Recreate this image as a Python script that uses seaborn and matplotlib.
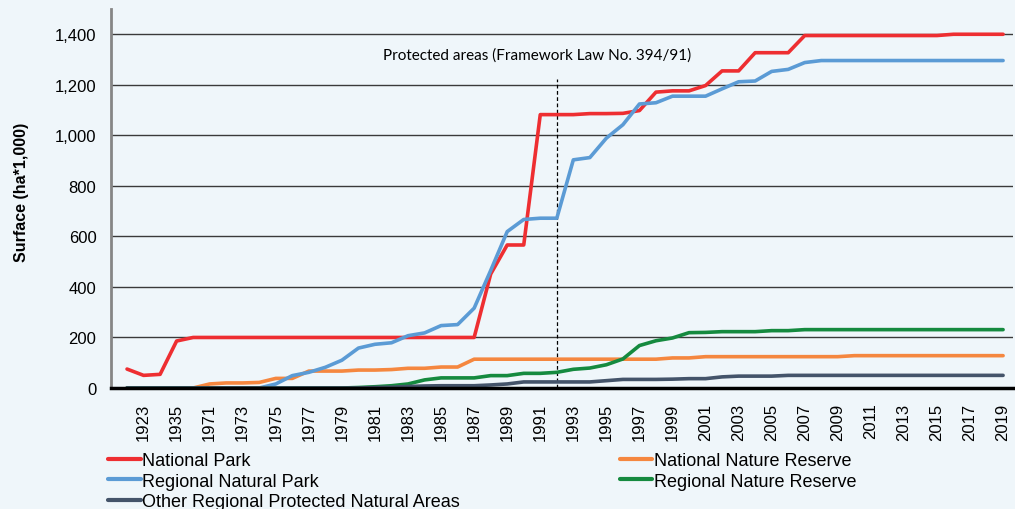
import matplotlib
matplotlib.use("Agg")
import matplotlib.pyplot as plt
import seaborn as sns
import pandas as pd
from matplotlib.ticker import FuncFormatter

# --- data (ha * 1,000) ---
years = ["1922", "1923", "1934", "1935", "1968"] + [str(y) for y in range(1971, 2020)]

national_park = [75, 50, 54, 186, 200,
                 200, 200, 200, 200, 200, 200, 200, 200, 200, 200, 200, 200, 200, 200, 200, 200, 200,
                 451, 566, 566, 1082, 1082, 1082, 1086, 1086, 1087, 1098, 1171, 1176, 1176, 1197,
                 1255, 1255, 1327, 1327, 1327,
                 1395, 1395, 1395, 1395, 1395, 1395, 1395, 1395, 1395,
                 1400, 1400, 1400, 1400]

national_nature_reserve = [0, 0, 0, 0, 0,
                           16, 20, 20, 22, 38, 38, 67, 67, 67, 71, 71, 73, 78, 78, 83, 83,
                           114, 114, 114, 114, 114, 114, 114, 114, 114, 114, 114, 114,
                           119, 119,
                           124, 124, 124, 124, 124, 124, 124, 124, 124,
                           128, 128, 128, 128, 128, 128, 128, 128, 128, 128]

regional_natural_park = [0, 0, 0, 0, 0, 0, 0, 0, 0,
                         16, 49, 62, 82, 110, 158, 173, 179, 207, 218, 247, 251, 316,
                         465, 619, 667, 672, 672, 903, 912, 989, 1042, 1124, 1129,
                         1155, 1155, 1155, 1184, 1212, 1215, 1253, 1261, 1288,
                         1296, 1296, 1296, 1296, 1296, 1296, 1296, 1296, 1296, 1296, 1296, 1296]

regional_nature_reserve = [0, 0, 0, 0, 0, 0, 0, 0, 0, 0, 0, 0, 0, 0,
                           2, 5, 9, 16, 32, 40, 40, 40, 49, 49, 58, 58, 62, 74, 79, 92,
                           115, 168, 187, 198, 219, 220, 223, 223, 223, 227, 227,
                           231, 231, 231, 231, 231, 231, 231, 231, 231, 231, 231, 231, 231]

other_regional = [0, 0, 0, 0, 0, 0, 0, 0, 0, 0, 0, 0, 0, 0, 0,
                  2, 3, 6, 8, 9, 9, 9, 12, 16, 24, 24, 24, 24, 24, 29, 34, 34, 34, 35,
                  37, 37, 44, 47, 47, 47,
                  50, 50, 50, 50, 50, 50, 50, 50, 50, 50, 50, 50, 50, 50]

series_names = ["National Park", "National Nature Reserve", "Regional Natural Park",
                "Regional Nature Reserve", "Other Regional Protected Natural Areas"]
series_values = [national_park, national_nature_reserve, regional_natural_park,
                 regional_nature_reserve, other_regional]
colors = ["#EE2E31", "#F5873F", "#5B9BD5", "#158A3F", "#44546A"]

law_year = "1992"
law_label = "Protected areas (Framework Law No. 394/91)"

# long-form table for seaborn
rows = []
for name, vals in zip(series_names, series_values):
    for i, v in enumerate(vals):
        rows.append({"idx": i, "year": years[i], "series": name, "value": v})
df = pd.DataFrame(rows)

bg = "#EFF6FA"
sns.set_style("white")
plt.rcParams["font.family"] = ["Liberation Sans", "DejaVu Sans"]
plt.rcParams["text.color"] = "black"
plt.rcParams["axes.labelcolor"] = "black"
plt.rcParams["xtick.color"] = "black"
plt.rcParams["ytick.color"] = "black"

fig = plt.figure(figsize=(10.15, 5.10), dpi=100, facecolor=bg)
ax = fig.add_axes([111 / 1015, 1 - 389 / 510, 902 / 1015, 379 / 510])
ax.set_facecolor(bg)

sns.lineplot(data=df, x="idx", y="value", hue="series", hue_order=series_names,
             palette=dict(zip(series_names, colors)), linewidth=2.6, ax=ax, legend=True)

handles, labels = ax.get_legend_handles_labels()
ax.get_legend().remove()

# grid + axes styling
ax.set_ylim(0, 1500)
ax.set_xlim(-0.97, len(years) - 1 + 0.6)
ax.set_yticks(range(0, 1401, 200))
ax.yaxis.set_major_formatter(FuncFormatter(lambda v, p: f"{int(v):,}"))
for yv in range(200, 1401, 200):
    ax.axhline(yv, color="#3a3a3a", lw=1.0, zorder=0)

ax.set_xticks(range(len(years)))
ax.set_xticklabels([y if i % 2 == 1 else "" for i, y in enumerate(years)], rotation=90)

for s in ["top", "right"]:
    ax.spines[s].set_visible(False)
ax.spines["left"].set_color("#868686")
ax.spines["left"].set_linewidth(2)
ax.spines["bottom"].set_color("black")
ax.spines["bottom"].set_linewidth(2.5)
ax.tick_params(axis="y", length=4.5, width=1, color="#868686", labelsize=12, pad=6)
ax.tick_params(axis="x", length=4.5, width=1, color="#555555", labelsize=12, pad=6)

ax.set_xlabel("")
ax.set_ylabel("Surface (ha*1,000)", fontsize=11.5, fontweight="bold")
ax.yaxis.set_label_coords(-0.091, 0.52)

# law marker
law_idx = years.index(law_year)
ax.vlines(law_idx, 0, 1224, colors="black", linestyles=(0, (3, 2)), lw=0.9, zorder=1)
ax.text(24.8, 1319, law_label, ha="center", va="center", fontsize=11,
        family=["Lato", "DejaVu Sans"])

# legend: NP, RNP, Other in column 1; NNR, RNR in column 2
order = [0, 2, 4, 1, 3]
leg = fig.legend([handles[i] for i in order], [labels[i] for i in order],
                 ncol=2, loc="upper left", bbox_to_anchor=(108 / 1015, 1 - 453 / 510),
                 frameon=False, handlelength=1.8, handletextpad=0.1,
                 columnspacing=8.85, labelspacing=0.2, borderpad=0, borderaxespad=0,
                 prop={"family": ["Liberation Sans", "DejaVu Sans"], "size": 13})
for h in leg.get_lines():
    h.set_linewidth(3)

fig.savefig("out.png", dpi=100, facecolor=bg)
